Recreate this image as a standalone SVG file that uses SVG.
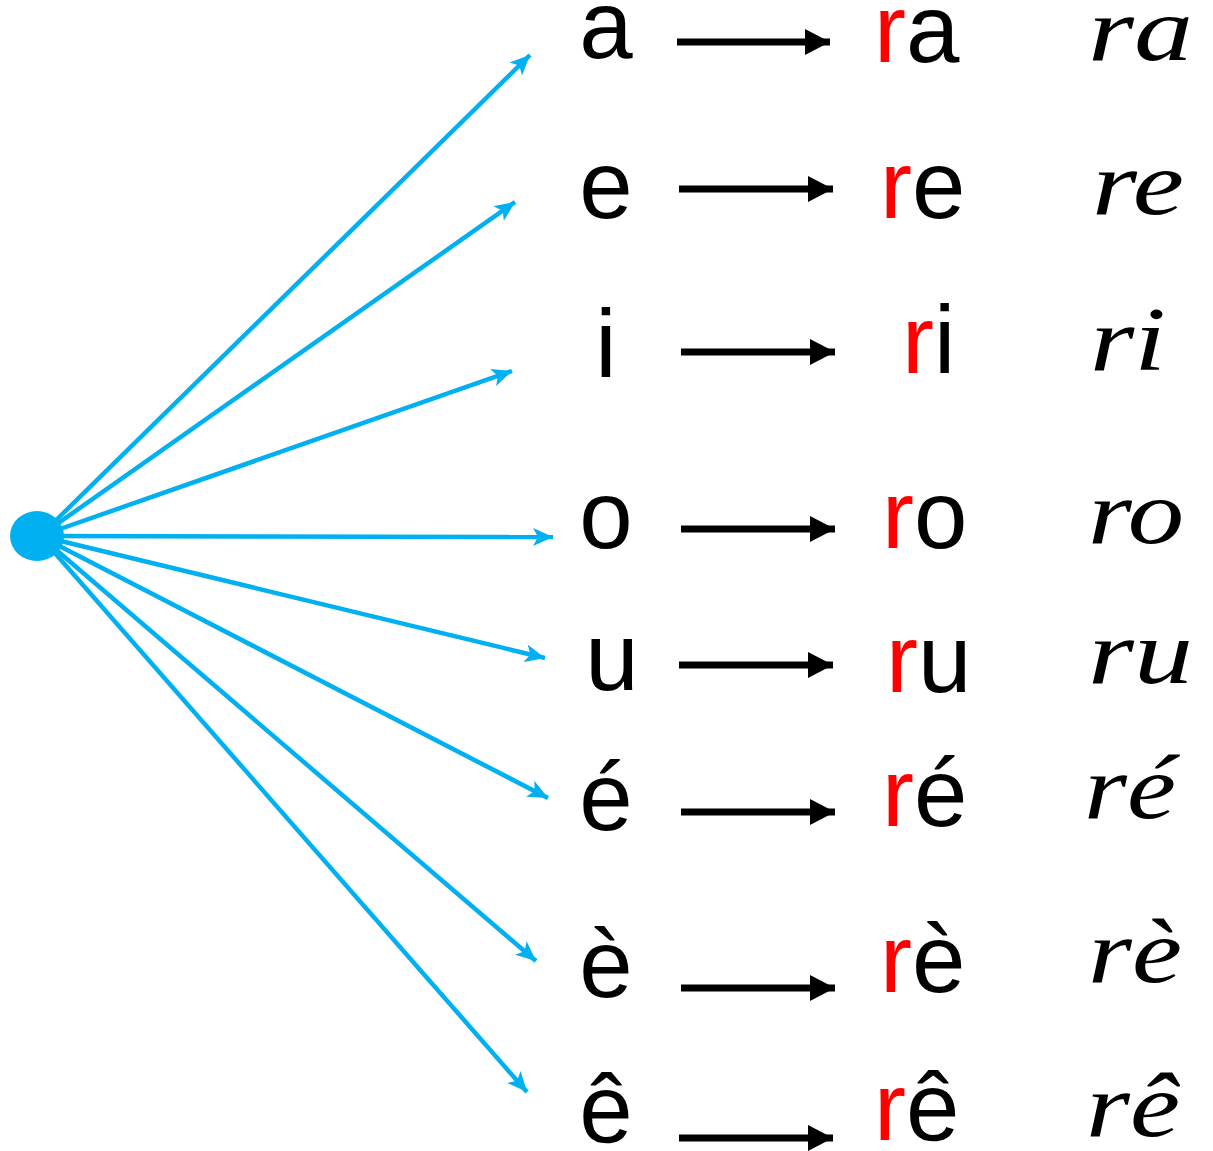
<svg xmlns="http://www.w3.org/2000/svg" width="1213" height="1151" viewBox="0 0 1213 1151">
<style>
.l{font-family:"Liberation Sans","DejaVu Sans",sans-serif;font-size:96px;fill:#000}
.r{fill:#FF0000}
.c{font-family:"Liberation Serif","DejaVu Serif",serif;font-style:italic;font-size:90px;fill:#000}
.bl{stroke:#00B0F0;stroke-width:4.5;fill:none;marker-end:url(#ab)}
.k{stroke:#000;stroke-width:7;fill:none;marker-end:url(#ak)}
</style>
<defs>
<marker id="ab" markerUnits="userSpaceOnUse" markerWidth="22" markerHeight="18" refX="20" refY="9" orient="auto"><path d="M0,0 L20,9 L0,18 L5,9 Z" fill="#00B0F0"/></marker>
<marker id="ak" markerUnits="userSpaceOnUse" markerWidth="26" markerHeight="28" refX="25" refY="14" orient="auto"><path d="M0,1 L25,14 L0,27 Z" fill="#000"/></marker>
</defs>
<g id="connectors">
<line class="bl" x1="40" y1="536" x2="530" y2="55"/>
<line class="bl" x1="40" y1="536" x2="515" y2="202"/>
<line class="bl" x1="40" y1="536" x2="512" y2="371"/>
<line class="bl" x1="40" y1="536" x2="553" y2="537"/>
<line class="bl" x1="40" y1="536" x2="545" y2="658"/>
<line class="bl" x1="40" y1="536" x2="548" y2="798"/>
<line class="bl" x1="40" y1="536" x2="536" y2="961"/>
<line class="bl" x1="40" y1="536" x2="527" y2="1092"/>
<line class="k" x1="677" y1="42" x2="830" y2="42"/>
<line class="k" x1="679" y1="189" x2="833" y2="189"/>
<line class="k" x1="681" y1="352" x2="835" y2="352"/>
<line class="k" x1="681" y1="529" x2="835" y2="529"/>
<line class="k" x1="679" y1="665" x2="833" y2="665"/>
<line class="k" x1="681" y1="812" x2="835" y2="812"/>
<line class="k" x1="681" y1="988" x2="835" y2="988"/>
<line class="k" x1="679" y1="1138" x2="833" y2="1138"/>
</g>
<g id="source"><ellipse cx="37" cy="536" rx="27" ry="25" fill="#00B0F0"/></g>
<g id="row-a"><text class="l" x="606" y="58" text-anchor="middle">a</text><text class="l" x="874" y="62"><tspan class="r">r</tspan>a</text><text class="c" x="1088" y="60" textLength="105" lengthAdjust="spacingAndGlyphs">ra</text></g>
<g id="row-e"><text class="l" x="606" y="218" text-anchor="middle">e</text><text class="l" x="880" y="218"><tspan class="r">r</tspan>e</text><text class="c" x="1092" y="214" textLength="92" lengthAdjust="spacingAndGlyphs">re</text></g>
<g id="row-i"><text class="l" x="606" y="377" text-anchor="middle">i</text><text class="l" x="902" y="373"><tspan class="r">r</tspan>i</text><text class="c" x="1090" y="370" textLength="76" lengthAdjust="spacingAndGlyphs">ri</text></g>
<g id="row-o"><text class="l" x="606" y="548" text-anchor="middle">o</text><text class="l" x="882" y="548"><tspan class="r">r</tspan>o</text><text class="c" x="1088" y="543" textLength="96" lengthAdjust="spacingAndGlyphs">ro</text></g>
<g id="row-u"><text class="l" x="612" y="690" text-anchor="middle">u</text><text class="l" x="886" y="692"><tspan class="r">r</tspan>u</text><text class="c" x="1088" y="683" textLength="105" lengthAdjust="spacingAndGlyphs">ru</text></g>
<g id="row-é"><text class="l" x="606" y="830" text-anchor="middle">é</text><text class="l" x="882" y="826"><tspan class="r">r</tspan>é</text><text class="c" x="1084" y="818" textLength="92" lengthAdjust="spacingAndGlyphs">ré</text></g>
<g id="row-è"><text class="l" x="606" y="997" text-anchor="middle">è</text><text class="l" x="880" y="992"><tspan class="r">r</tspan>è</text><text class="c" x="1088" y="982" textLength="94" lengthAdjust="spacingAndGlyphs">rè</text></g>
<g id="row-ê"><text class="l" x="606" y="1142" text-anchor="middle">ê</text><text class="l" x="874" y="1140"><tspan class="r">r</tspan>ê</text><text class="c" x="1086" y="1136" textLength="94" lengthAdjust="spacingAndGlyphs">rê</text></g>
</svg>
